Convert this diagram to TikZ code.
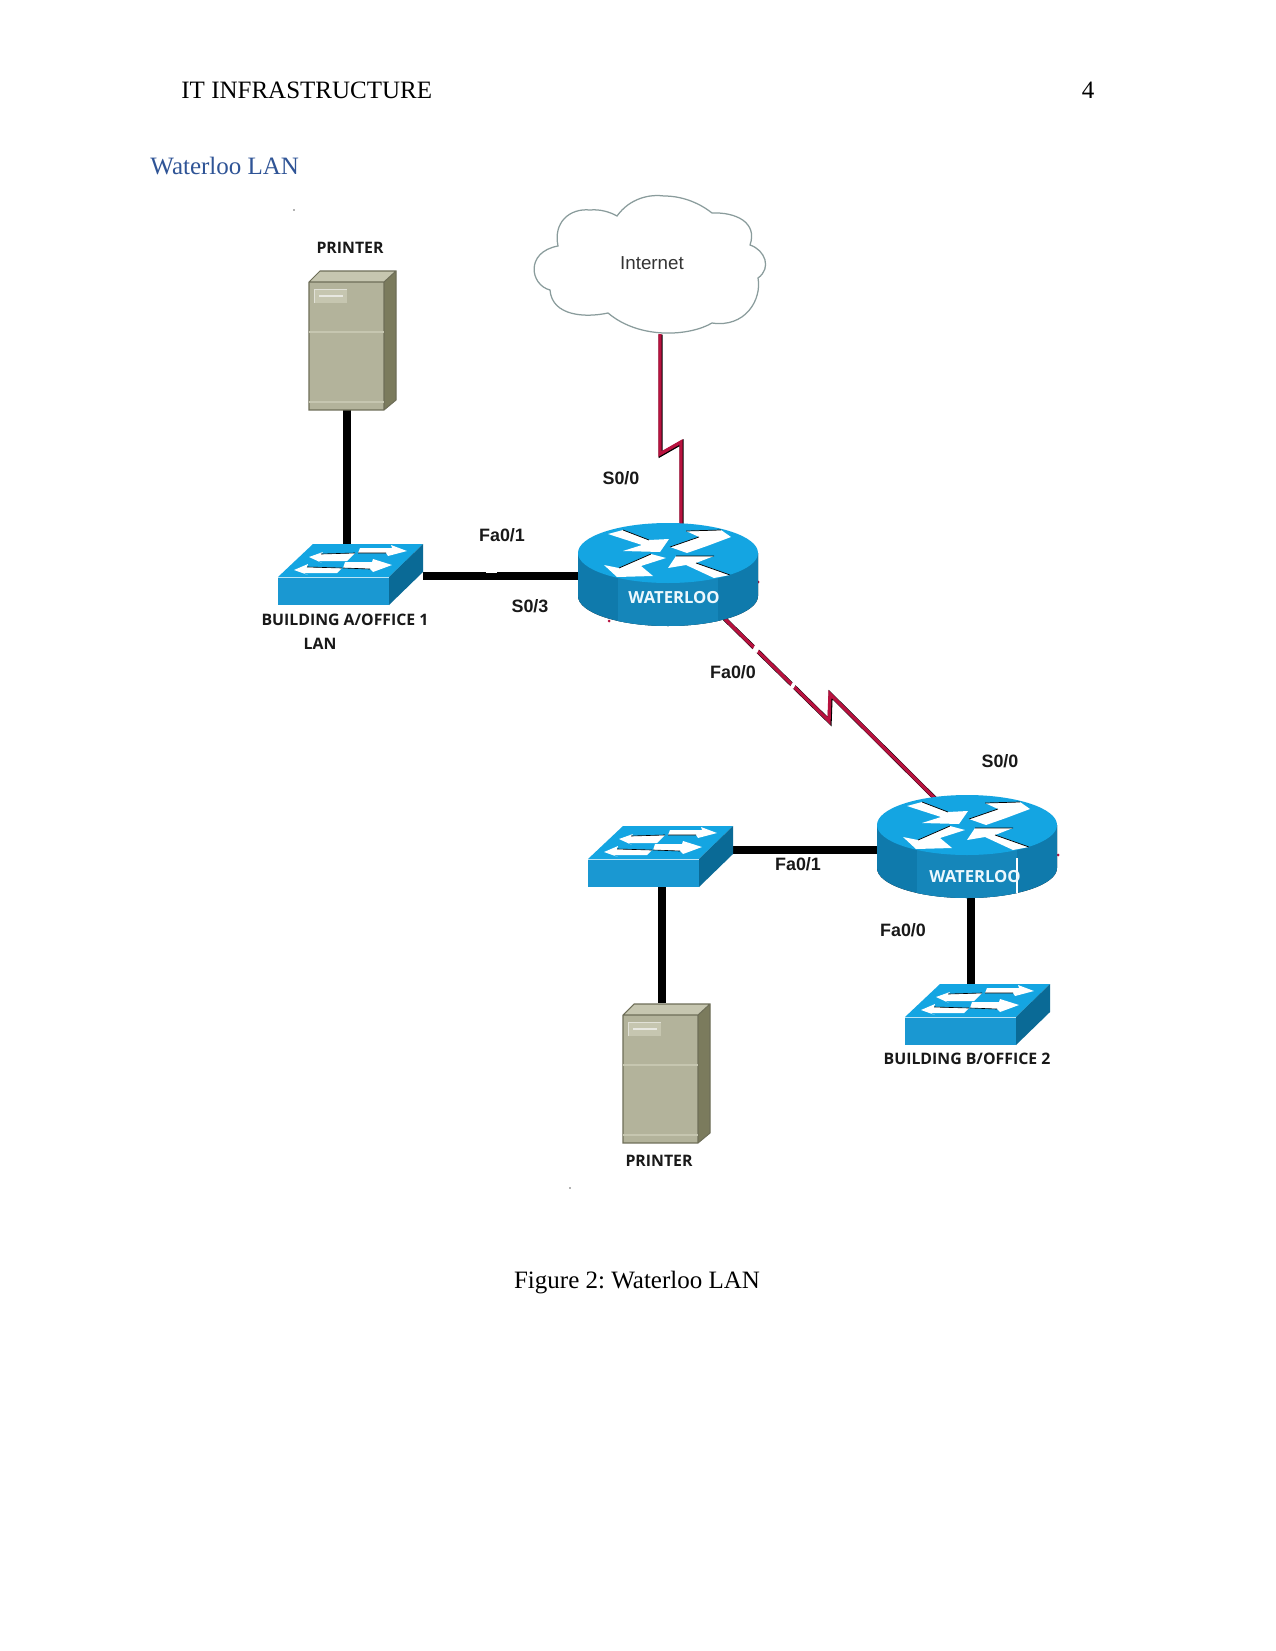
\documentclass[tikz,border=0pt]{standalone}
\usepackage{fontspec}
\setmainfont{Liberation Serif}
\newfontfamily\portfont{Liberation Sans}
\newfontfamily\iconfont{Open Sans}
\newcommand{\px}{0.48pt}
\frenchspacing

\definecolor{headblue}{HTML}{2F5496}
\definecolor{topblue}{HTML}{14A5E2}
\definecolor{frontblue}{HTML}{1A98D2}
\definecolor{sideblue}{HTML}{0A6A96}
\definecolor{rimdark}{HTML}{0F7AAC}
\definecolor{rimmid}{HTML}{148BC0}
\definecolor{patchblue}{HTML}{1586BA}
\definecolor{serialred}{HTML}{B8123F}
\definecolor{cloudline}{HTML}{8A9C9C}
\definecolor{caseface}{HTML}{B3B39B}
\definecolor{casetop}{HTML}{C6C6B0}
\definecolor{caseside}{HTML}{7B7B5D}
\definecolor{caseedge}{HTML}{6E6E58}

\tikzset{
  router icon/.pic={
    \fill[left color=rimdark,middle color=rimmid,right color=rimdark]
      (-90,0) -- (-90,43) arc[start angle=180,end angle=0,x radius=90,y radius=30] -- (90,0) -- cycle;
    \begin{scope}
      \clip (-90,0) -- (-90,43) arc[start angle=180,end angle=0,x radius=90,y radius=30] -- (90,0) -- cycle;
      \fill[patchblue] (-50,0) rectangle (50,75);
    \end{scope}
    \fill[topblue] (0,0) ellipse[x radius=90,y radius=30];
    % the four arrows on the lid
    \fill[white] (-60,-19) -- (-45,-23) -- (-19,-13) -- (1,-14) -- (-8,-1) -- (-45,-2) -- (-26,-8) -- cycle;
    \fill[white] (2,-6) -- (31,-16) -- (18,-22) -- (53,-23) -- (63,-16) -- (39,-7) -- (19,0) -- cycle;
    \fill[white] (-64,12) -- (-49,15) -- (-17,1) -- (-2,5) -- (-27,13) -- (-15,23) -- (-51,24) -- cycle;
    \fill[white] (0,15) -- (8,3) -- (46,3) -- (28,10) -- (62,22) -- (46,25) -- (18,12) -- cycle;
    \draw[black,line width=.35pt] (-45,-23) -- (-19,-13) (2,-6) -- (31,-16) (18,-22) -- (53,-23)
      (-49,15) -- (-17,1) (8,3) -- (46,3) (28,10) -- (62,22);
  },
  switch icon/.pic={
    \fill[frontblue] (0,0) rectangle (111,28);
    \fill[topblue] (0,0) -- (35,-33) -- (145,-33) -- (111,0) -- cycle;
    \fill[sideblue] (111,0) -- (145,-33) -- (145,-5) -- (111,28) -- cycle;
    \draw[white!70!topblue,line width=.3pt] (0,0) -- (111,0);
    % arrows on the top face
    \fill[white] (31,-20) -- (45,-25) -- (43,-23) -- (77,-24) -- (69,-16) -- (40,-16) -- (44,-14) -- cycle;
    \fill[white] (82,-29) -- (114,-29) -- (113,-32) -- (129,-26) -- (110,-21) -- (108,-24) -- (80,-24) -- cycle;
    \fill[white] (16,-7) -- (30,-13) -- (29,-10) -- (64,-9) -- (59,-4) -- (25,-4) -- (30,-2) -- cycle;
    \fill[white] (67,-15) -- (94,-15) -- (95,-18) -- (114,-12) -- (95,-5) -- (92,-8) -- (65,-9) -- cycle;
    \draw[black,line width=.3pt] (43,-23) -- (77,-24)
      (29,-10) -- (64,-9) (108,-24) -- (80,-24) (92,-8) -- (65,-9);
  },
  server icon/.pic={
    \fill[caseface] (0,0) rectangle (75,128);
    \fill[casetop] (0,0) -- (11,-11) -- (87,-11) -- (75,0) -- cycle;
    \fill[caseside] (75,0) -- (87,-11) -- (87,118) -- (75,128) -- cycle;
    \draw[caseedge,line width=.5pt] (0,128) -- (0,0) -- (11,-11) -- (87,-11) -- (87,118) -- (75,128) -- cycle
      (0,0) -- (75,0) -- (87,-11) (75,0) -- (75,128);
    \draw[caseedge,line width=.4pt] (0,119) -- (75,119);
    \draw[casetop,line width=.6pt] (0,50) -- (75,50) (0,120) -- (75,120);
    \fill[casetop] (5,7) rectangle (38,21);
    \draw[white!60!caseface,line width=.4pt] (5,21) -- (5,7) -- (38,7);
    \draw[white!70!caseface,line width=.5pt] (10,14) -- (34,14);
  }
}

\begin{document}
\begin{tikzpicture}[x=\px,y=-\px,
    device/.style 2 args={inner sep=0pt,outer sep=0pt,minimum width=#1*\px,minimum height=#2*\px},
    ethernet/.style={line width=3.4pt},
    serial/.style={draw=serialred,line width=1.6pt,line join=miter,
      preaction={draw=black,line width=2pt,transform canvas={xshift=.3pt,yshift=-.3pt}}},
    page text/.style={inner sep=0pt,font=\fontsize{12}{14}\selectfont},
    port/.style={inner sep=0pt,font=\portfont\bfseries\fontsize{8.6}{10}\selectfont,text=black!90},
    tag/.style={inner sep=0pt,font=\iconfont\bfseries\fontsize{7.6}{9}\selectfont,text=black!90},
    hostname/.style={inner sep=0pt,font=\iconfont\bfseries\fontsize{8}{9}\selectfont,text=white!92!topblue}]

  \useasboundingbox (0,0) rectangle (1275,1651);
  \fill[white] (0,0) rectangle (1275,1651);

  % page furniture
  \node[page text,anchor=west] (running) at (181,90) {IT INFRASTRUCTURE};
  \node[page text] (folio) at (1088,90) {4};
  \node[page text,anchor=west,text=headblue] (heading) at (150,166) {Waterloo LAN};
  \node[page text] (caption) at (637,1283) {Figure 2: Waterloo LAN};

  % anchors for the links, sized so their sides land on the wires
  \node[device={200}{138}] (cloudbox) at (660,265) {};
  \node[device={100}{140}] (printerA) at (347,340) {};
  \node[device={152}{62}] (switchA) at (347,576) {};
  \node[device={206}{84}] (routerA) at (681,576) {};
  \node[device={188}{96}] (routerB) at (971,850) {};
  \node[device={142}{60}] (switchB) at (662,857) {};
  \node[device={100}{140}] (printerB) at (662,1073) {};
  \node[device={100}{52}] (switchC) at (971,1010) {};
  \coordinate (jogA) at (660,454);
  \coordinate (jogB) at (681,442);
  \coordinate (jogC) at (829,721);
  \coordinate (jogD) at (830,694);

  % links
  \draw[ethernet] (printerA.south) -- (switchA.north);
  \draw[ethernet] (switchA.east) -- (routerA.west);
  \draw[ethernet] (switchB.east |- routerB.west) -- (routerB.west);
  \draw[ethernet] (switchB.south) -- (printerB.north);
  \draw[ethernet] (routerB.south) -- (switchC.north);
  \draw[serial] (cloudbox.south) -- (jogA) -- (jogB) -- (routerA.north);
  \draw[serial] (routerA) -- (jogC) -- (jogD) -- (routerB.124);

  % nicks and specks left in the lines
  \fill[white] (752,651) -- (755,645) -- (760,647) -- (757,653) -- cycle;
  \fill[white] (790,687) -- (793,682) -- (796,684) -- (793,689) -- cycle;
  \fill[white] (486,571) rectangle (497,573);
  \foreach \x/\y in {758/582,609/621,1058/855}
    \fill[serialred] (\x,\y) circle[radius=1.5];
  \foreach \x/\y in {294/210,570/1188}
    \fill[black!60] (\x,\y) circle[radius=.8];

  % cloud
  \draw[cloudline,line width=.6pt,fill=white]
    (558,246) .. controls (553,222) and (570,208) .. (590,210)
    .. controls (600,209) and (610,212) .. (617,216)
    .. controls (630,198) and (650,194) .. (664,196)
    .. controls (685,196) and (702,205) .. (712,213)
    .. controls (735,212) and (758,222) .. (750,245)
    .. controls (765,250) and (772,268) .. (758,278)
    .. controls (762,300) and (745,328) .. (712,323)
    .. controls (690,336) and (640,340) .. (608,313)
    .. controls (585,318) and (552,316) .. (550,290)
    .. controls (530,285) and (525,252) .. (558,246) -- cycle;
  \node[inner sep=0pt,font=\portfont\fontsize{9}{11}\selectfont,text=black!80] (internet) at (652,263) {Internet};

  % equipment
  \pic at (309,282) {server icon};
  \pic at (623,1015) {server icon};
  \pic at (278,577) {switch icon};
  \pic at (588,859) {switch icon};
  \pic at (905,1017) {switch icon};
  \pic at (668,553) {router icon};
  \pic at (967,825) {router icon};
  \draw[white,line width=.5pt] (1017,858) -- (1017,893);

  % names and ports
  \node[hostname] (nameA) at (674,598) {WATERLOO};
  \node[hostname] (nameB) at (975,877) {WATERLOO};
  \node[tag] (printerlabelA) at (350,248) {PRINTER};
  \node[tag] (printerlabelB) at (659,1161) {PRINTER};
  \node[tag] (buildingA) at (345,620) {BUILDING A/OFFICE 1};
  \node[tag] (lanA) at (320,644) {LAN};
  \node[tag] (buildingB) at (967,1059) {BUILDING B/OFFICE 2};
  \node[port] (portA) at (621,478) {S0/0};
  \node[port] (portB) at (502,535) {Fa0/1};
  \node[port] (portC) at (530,606) {S0/3};
  \node[port] (portD) at (733,672) {Fa0/0};
  \node[port] (portE) at (1000,761) {S0/0};
  \node[port] (portF) at (798,864) {Fa0/1};
  \node[port] (portG) at (903,930) {Fa0/0};
\end{tikzpicture}
\end{document}
